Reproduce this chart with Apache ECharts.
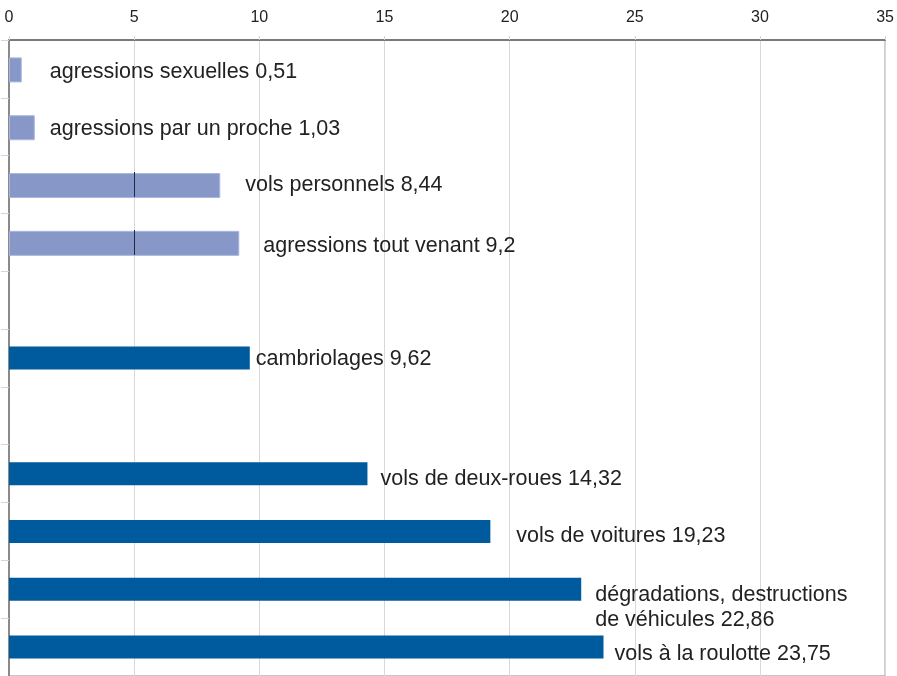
<!DOCTYPE html>
<html>
<head>
<meta charset="utf-8">
<script src="https://cdn.jsdelivr.net/npm/echarts@6/dist/echarts.min.js"></script>
<style>
  html, body { margin: 0; padding: 0; background: #fff; }
  #chart { width: 897px; height: 676px; }
</style>
</head>
<body>
<div id="chart"></div>
<script>
// catégories, de haut en bas ('' = ligne vide)
const categories = [
  'agressions sexuelles',
  'agressions par un proche',
  'vols personnels',
  'agressions tout venant',
  '',
  'cambriolages',
  ' ',
  'vols de deux-roues',
  'vols de voitures',
  'dégradations, destructions\nde véhicules',
  'vols à la roulotte'
]
// atteintes aux personnes (barres claires)
const personValues = [0.51, 1.03, 8.44, 9.2, null, null, null, null, null, null, null]
// atteintes aux biens (barres foncées)
const propertyValues = [null, null, null, null, null, 9.62, null, 14.32, 19.23, 22.86, 23.75]
const xTicks = [0, 5, 10, 15, 20, 25, 30, 35]

// écart des étiquettes par rapport au bout des barres (mise en page)
const labelGap = [28, 15, 25, 24, 0, 6, 0, 13, 26, 14, 11]
const labelShiftY = [2, 1, 0, 3, 0, 1, 0, 5, 5, 18, 7]

const chart = echarts.init(document.getElementById('chart'))

function fmt(v) {
  return String(v).replace('.', ',')
}

function buildData(values) {
  return values.map((v, i) => {
    if (v === null) return '-'
    return {
      value: v,
      label: {
        distance: labelGap[i],
        offset: [0, labelShiftY[i]]
      }
    }
  })
}

const labelStyle = {
  show: true,
  position: 'right',
  color: '#222',
  fontFamily: 'Liberation Sans, Arial, sans-serif',
  fontSize: 21.5,
  lineHeight: 25,
  formatter: (p) => categories[p.dataIndex] + ' ' + fmt(p.value)
}

chart.setOption({
  animation: false,
  grid: {
    left: 9,
    right: 11,
    top: 40,
    bottom: -1,
    show: true,
    borderColor: '#8a8a8a',
    borderWidth: 1
  },
  xAxis: {
    type: 'value',
    position: 'top',
    min: 0,
    max: 35,
    interval: 5,
    axisLine: { show: true, lineStyle: { color: '#7a7a7a', width: 2 } },
    axisTick: { show: true, length: 4, lineStyle: { color: '#d4d4d4' } },
    axisLabel: {
      color: '#222',
      fontSize: 16,
      fontFamily: 'Liberation Sans, Arial, sans-serif',
      margin: 14,
      formatter: (v) => (xTicks.indexOf(v) >= 0 ? String(v) : '')
    },
    splitLine: { show: true, lineStyle: { color: '#d8d8d8', width: 1 } }
  },
  yAxis: {
    type: 'category',
    inverse: true,
    data: categories,
    axisLine: { show: true, lineStyle: { color: '#8a8a8a', width: 2 } },
    axisTick: { show: true, length: 8, lineStyle: { color: '#d4d4d4' } },
    axisLabel: { show: false },
    splitLine: { show: false }
  },
  series: [
    {
      type: 'bar',
      data: buildData(personValues),
      barWidth: 25,
      barGap: '-100%',
      itemStyle: {
        color: '#8798c8',
        borderColor: '#a9b6de',
        borderWidth: 1
      },
      label: labelStyle,
      markLine: {
        silent: true,
        symbol: 'none',
        label: { show: false },
        lineStyle: { color: '#1a2a40', width: 1, type: 'solid' },
        data: [
          [{ coord: [5, 2], y: 172 }, { coord: [5, 2], y: 197 }],
          [{ coord: [5, 3], y: 230 }, { coord: [5, 3], y: 255 }]
        ]
      }
    },
    {
      type: 'bar',
      data: buildData(propertyValues),
      barWidth: 23,
      itemStyle: { color: '#005a9e' },
      label: labelStyle
    }
  ]
})
</script>
</body>
</html>
